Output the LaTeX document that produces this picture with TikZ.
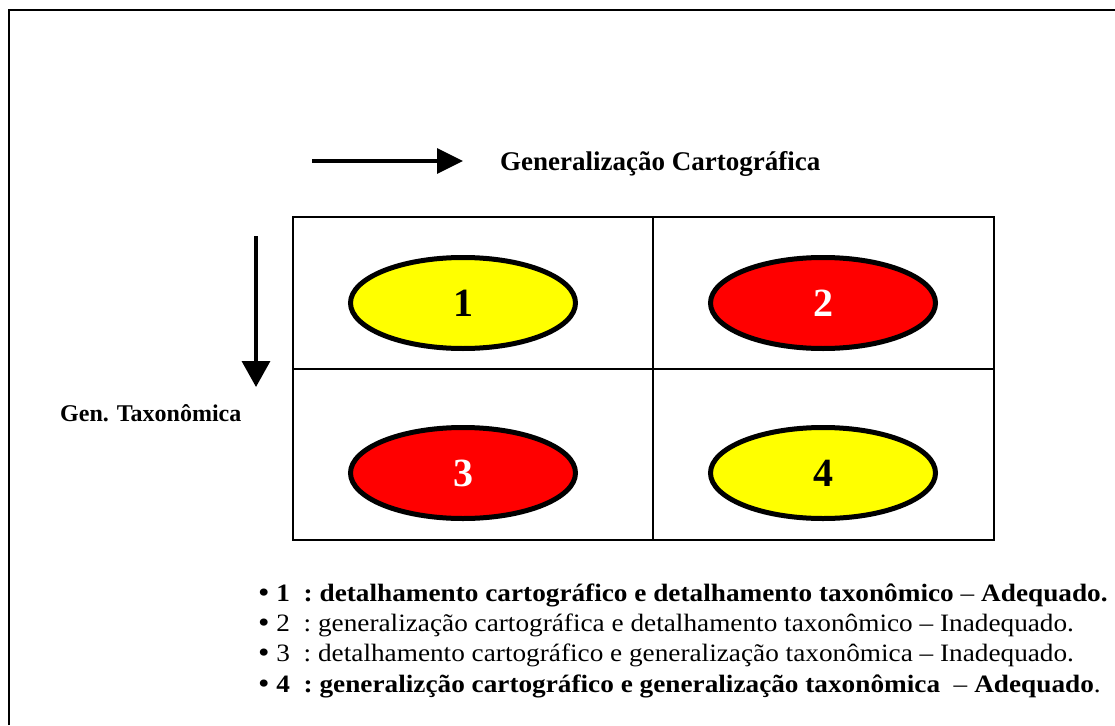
\documentclass[tikz,border=0pt]{standalone}
\usepackage{fontspec}
\setmainfont{Liberation Serif}
\newfontfamily\legendfont[FakeStretch=1.09]{Liberation Serif}
\usetikzlibrary{shapes.geometric,arrows.meta}
\definecolor{celly}{RGB}{255,255,0}
\definecolor{cellr}{RGB}{255,0,0}
\newcommand{\legbullet}{\raisebox{-1pt}{\fontsize{30}{30}\selectfont •}}

\begin{document}
\begin{tikzpicture}[x=1pt, y=-1pt,
  cell/.style={ellipse,draw,line width=5pt,minimum width=225pt,minimum height=91pt,inner sep=0pt,font=\fontsize{40}{40}\selectfont\bfseries},
  grid/.style={line width=1.5pt},
  axis/.style={line width=3.5pt},
  legend/.style={anchor=base west,inner sep=0pt,font=\legendfont\fontsize{25}{25}\selectfont}]
  \useasboundingbox (0,0) rectangle (1115,725);

  % Frame
  \draw[line width=2pt] (9,725) -- (9,10) -- (1115,10);

  % Grid
  \draw[grid] (293,217) rectangle (994,540);
  \draw[grid] (653,217) -- (653,540);
  \draw[grid] (293,369) -- (994,369);

  % Cells
  \draw (463,303) node(c1) [cell,fill=celly] {1};
  \draw (823,303) node(c2) [cell,fill=cellr,text=white] {2};
  \draw (463,473) node(c3) [cell,fill=cellr,text=white] {3};
  \draw (823,473) node(c4) [cell,fill=celly] {4};

  % Axes
  \coordinate (cartoA) at (312,161);
  \coordinate (cartoB) at (463,161);
  \coordinate (taxoA) at (256,236);
  \coordinate (taxoB) at (256,387);
  \draw[axis, -{Triangle[length=26pt,width=25pt]}] (cartoA) -- (cartoB);
  \draw[axis, -{Triangle[length=26pt,width=28pt]}] (taxoA) -- (taxoB);

  \draw (500,170) node(carto) [anchor=base west,inner sep=0pt,font=\fontsize{27}{27}\selectfont\bfseries] {Generalização Cartográfica};
  \draw (60,421) node(taxo) [anchor=base west,inner sep=0pt,font=\fontsize{24}{24}\selectfont\bfseries] {Gen. Taxonômica};

  % Legend
  \draw (258,601) node(l1) [legend] {\legbullet\ \textbf{1\ \ :\ detalhamento cartográfico e detalhamento taxonômico} – \textbf{Adequado.}};
  \draw (258,631) node(l2) [legend] {\legbullet\ 2\ \ :\ generalização cartográfica e detalhamento taxonômico – Inadequado.};
  \draw (258,661) node(l3) [legend] {\legbullet\ 3\ \ :\ detalhamento cartográfico e generalização taxonômica – Inadequado.};
  \draw (258,692) node(l4) [legend] {\legbullet\ \textbf{4\ \ :\ generalizção cartográfico e generalização taxonômica}\ \ – \textbf{Adequado}.};

\end{tikzpicture}
\end{document}
